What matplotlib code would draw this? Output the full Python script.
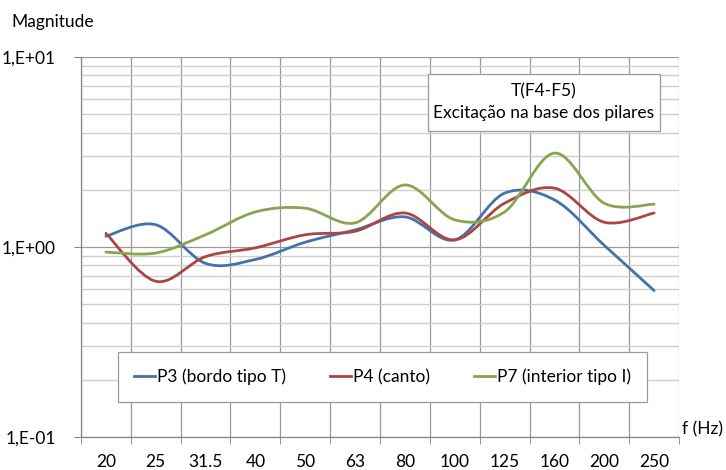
import numpy as np
import matplotlib.pyplot as plt
from matplotlib.path import Path
from matplotlib.patches import PathPatch, Rectangle
from matplotlib.lines import Line2D
from matplotlib import ticker

plt.rcParams['font.family'] = ['Lato', 'DejaVu Sans']

# data
freqs = ['20', '25', '31.5', '40', '50', '63', '80', '100', '125', '160', '200', '250']
p3 = [1.14, 1.31, 0.82, 0.86, 1.06, 1.23, 1.44, 1.09, 1.92, 1.77, 1.02, 0.59]
p4 = [1.18, 0.66, 0.89, 0.99, 1.16, 1.21, 1.51, 1.09, 1.70, 2.04, 1.35, 1.51]
p7 = [0.94, 0.93, 1.16, 1.53, 1.60, 1.34, 2.12, 1.39, 1.53, 3.12, 1.70, 1.68]
names = ['P3 (bordo tipo T)', 'P4 (canto)', 'P7 (interior tipo I)']
colors = ['#4572A7', '#AA4643', '#89A54E']
y_ticks = [0.1, 1, 10]
y_labels = ['1,E-01', '1,E+00', '1,E+01']

FS = 12.5


def smooth_path(xs, ys):
    # excel style smoothed line: cubic bezier segments, built in log space
    x = np.asarray(xs, float)
    ly = np.log10(ys)
    n = len(x)
    verts = [(x[0], ly[0])]
    codes = [Path.MOVETO]
    for i in range(n - 1):
        p0 = np.array([x[max(i - 1, 0)], ly[max(i - 1, 0)]])
        p1 = np.array([x[i], ly[i]])
        p2 = np.array([x[i + 1], ly[i + 1]])
        p3_ = np.array([x[min(i + 2, n - 1)], ly[min(i + 2, n - 1)]])
        c1 = p1 + (p2 - p0) / 6
        c2 = p2 - (p3_ - p1) / 6
        verts += [tuple(c1), tuple(c2), tuple(p2)]
        codes += [Path.CURVE4] * 3
    verts = [(vx, 10 ** vy) for vx, vy in verts]
    return Path(verts, codes)


fig = plt.figure(figsize=(7.26, 4.70), dpi=100)
ax = fig.add_axes([81 / 726, 33 / 470, 598 / 726, 380 / 470])

xpos = np.arange(len(freqs))
ax.set_yscale('log')
ax.set_ylim(0.1, 10)
ax.set_xlim(-0.5, len(freqs) - 0.5)

# grid
ax.set_xticks(xpos)
ax.set_xticklabels(freqs, fontsize=FS)
ax.xaxis.set_minor_locator(ticker.FixedLocator(np.arange(-0.5, len(freqs), 1.0)))
ax.tick_params(axis='x', which='major', length=0, pad=12)
ax.tick_params(axis='x', which='minor', length=5, color='#868686', direction='out')
ax.grid(True, axis='x', which='minor', color='#9a9a9a', linewidth=0.9)

ax.set_yticks(y_ticks)
ax.set_yticklabels(y_labels, fontsize=FS)
ax.yaxis.set_minor_locator(ticker.LogLocator(base=10, subs=np.arange(2, 10)))
ax.yaxis.set_minor_formatter(ticker.NullFormatter())
ax.tick_params(axis='y', which='major', length=5, color='#868686', pad=13)
ax.tick_params(axis='y', which='minor', length=0)
ax.grid(True, axis='y', which='major', color='#9a9a9a', linewidth=0.9)
ax.grid(True, axis='y', which='minor', color='#cfcfcf', linewidth=1.0)
ax.set_axisbelow(True)

for s in ['top', 'right']:
    ax.spines[s].set_visible(False)
for s in ['left', 'bottom']:
    ax.spines[s].set_color('#868686')
    ax.spines[s].set_linewidth(0.9)

# series
handles = []
for vals, c, name in zip([p3, p4, p7], colors, names):
    ax.add_patch(PathPatch(smooth_path(xpos, vals), fill=False, edgecolor=c,
                           linewidth=2.0, capstyle='round', zorder=3))
    handles.append(Line2D([], [], color=c, linewidth=2.0, label=name))

leg = ax.legend(handles=handles, loc='center', bbox_to_anchor=(0.504, 0.158),
                ncol=3, fontsize=FS, handlelength=1.2, handletextpad=0.1,
                columnspacing=2.55, fancybox=False, framealpha=1,
                edgecolor='#9a9a9a', borderpad=0.95, borderaxespad=0)
leg.get_frame().set_linewidth(0.9)

# annotation box
box = Rectangle(((428 - 81) / 598, (437 - 131) / 380), 232 / 598, 57 / 380,
                transform=ax.transAxes, facecolor='white', edgecolor='#9a9a9a',
                linewidth=0.9, zorder=4)
ax.add_patch(box)
ax.text((544 - 81) / 598, (437 - 102.5) / 380, 'T(F4-F5)\nExcitação na base dos pilares',
        transform=ax.transAxes, ha='center', va='center', fontsize=FS,
        linespacing=1.45, zorder=5)

fig.text(11 / 726, 1 - 22 / 470, 'Magnitude', fontsize=FS, va='center', ha='left')
fig.text(682 / 726, 1 - 437 / 470, 'f (Hz)', fontsize=FS, va='bottom', ha='left')

fig.savefig('out.png', dpi=100)
